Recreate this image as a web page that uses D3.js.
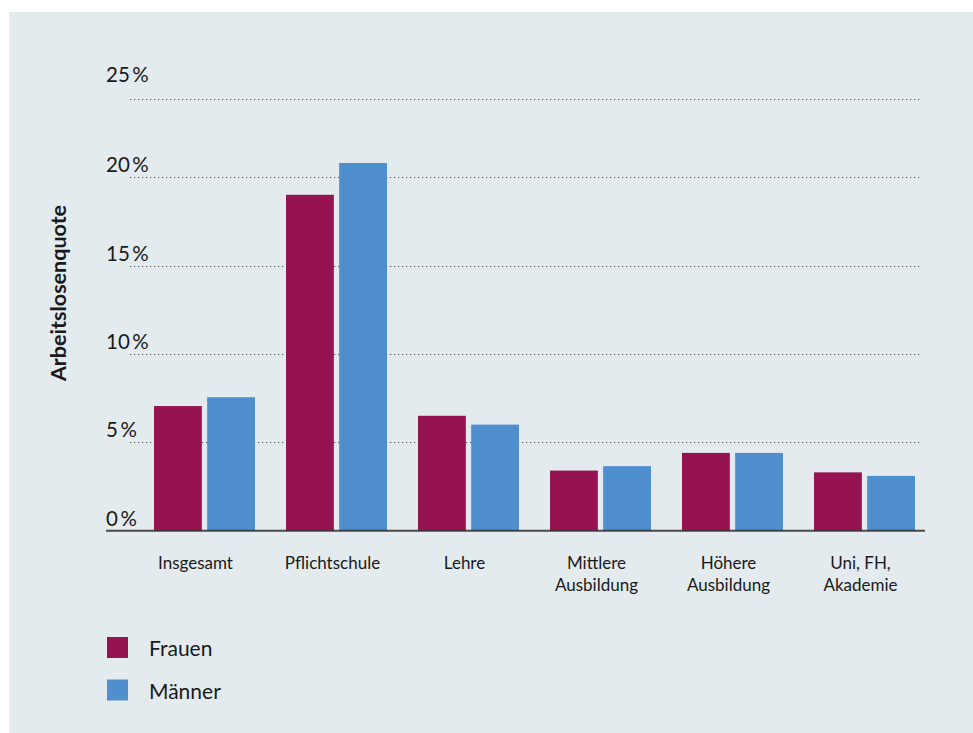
<!DOCTYPE html>
<html><head><meta charset="utf-8">
<script src="https://cdn.jsdelivr.net/npm/d3@7"></script>
<style>
html,body{margin:0;padding:0;background:#fff;}
svg{display:block;font-family:Lato,"Open Sans",sans-serif;}
</style></head>
<body><svg id="c" width="973" height="733"></svg>
<script>
const categories = [["Insgesamt"],["Pflichtschule"],["Lehre"],["Mittlere","Ausbildung"],["Höhere","Ausbildung"],["Uni, FH,","Akademie"]];
const seriesNames = ["Frauen","Männer"];
const frauen = [7.05, 19.0, 6.5, 3.4, 4.4, 3.3];
const maenner = [7.55, 20.8, 6.0, 3.65, 4.4, 3.1];
const yTicks = [0,5,10,15,20,25];
const tickLabels = ["0\u2009%","5\u2009%","10\u2009%","15\u2009%","20\u2009%","25\u2009%"];
const colors = ["#941350","#4f8fce"];
const axisTitle = "Arbeitslosenquote";

const svg = d3.select("#c");
svg.append("rect").attr("x",9).attr("y",12).attr("width",964).attr("height",721).attr("fill","#e3ebee");

const y = d3.scaleLinear().domain([0,25]).range([530.7,88.7]);
const x0 = d3.scaleBand().domain(d3.range(categories.length)).range([138.5,930.5]).paddingInner(0).paddingOuter(0);
const x1 = d3.scaleBand().domain([0,1]).range([0,101]).paddingInner(0.1).paddingOuter(0);

// gridlines
const g = svg.append("g");
yTicks.filter(v=>v>0).forEach(v=>{
  const yy = v===25 ? y(v)+10 : y(v);
  g.append("line").attr("x1",130).attr("x2",920).attr("y1",Math.round(yy)+0.5).attr("y2",Math.round(yy)+0.5)
   .attr("stroke","#4a4a4a").attr("stroke-width",1).attr("stroke-dasharray","1.2,2.8");
});
// tick labels
yTicks.forEach((v,i)=>{
  svg.append("text").attr("x",106).attr("y",y(v)-(v===25?7:5)).attr("font-size",20.5).attr("fill","#1a1a1a")
    .text(tickLabels[i]);
});

// bars
const data = [frauen, maenner];
const groups = svg.append("g");
categories.forEach((c,i)=>{
  const gx = x0(i) + (x0.bandwidth()-101)/2;
  data.forEach((s,j)=>{
    groups.append("rect").attr("x",gx + x1(j)).attr("width",x1.bandwidth())
      .attr("y",y(s[i])).attr("height",y(0)-y(s[i])).attr("fill",colors[j]);
  });
  const cx = x0(i)+x0.bandwidth()/2 - (i===0?9:4);
  const t = svg.append("text").attr("text-anchor","middle").attr("font-size",17).attr("fill","#1a1a1a")
    .attr("x", cx).attr("y",569);
  c.forEach((line,k)=>t.append("tspan").attr("x",cx).attr("dy",k===0?0:22).text(line));
});

// axis line
svg.append("line").attr("x1",106).attr("x2",925).attr("y1",y(0)).attr("y2",y(0)).attr("stroke","#2e2e2e").attr("stroke-opacity",0.85).attr("stroke-width",2);

// axis title
svg.append("text").attr("transform","translate(66,293) rotate(-90)").attr("text-anchor","middle")
  .attr("font-size",21.5).attr("font-weight","bold").attr("fill","#1a1a1a").text(axisTitle);

// legend
seriesNames.forEach((n,i)=>{
  const ly = 637 + i*42.5;
  svg.append("rect").attr("x",107).attr("y",ly).attr("width",21).attr("height",21).attr("fill",colors[i]);
  svg.append("text").attr("x",149).attr("y",ly+19).attr("font-size",21).attr("fill","#1a1a1a").text(n);
});
</script></body></html>
